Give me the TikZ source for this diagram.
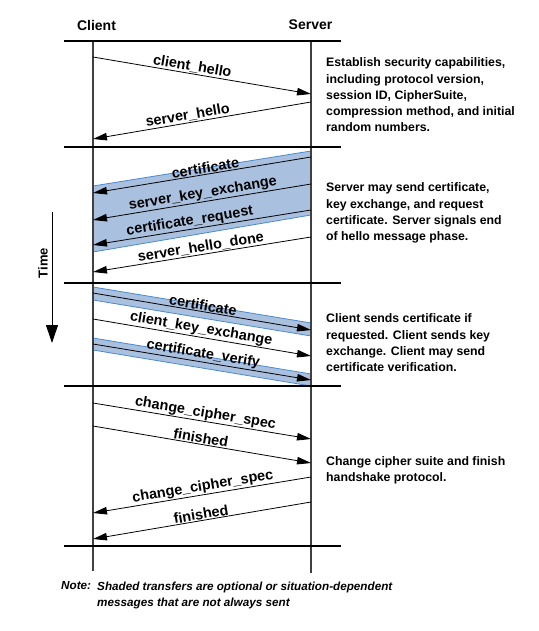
\documentclass[tikz,border=0pt]{standalone}
\usepackage{fontspec}
\setmainfont{Liberation Sans}
\usetikzlibrary{arrows.meta}
\definecolor{bandfill}{HTML}{A9C0DE}
\definecolor{bandedge}{HTML}{4A8AD0}

\begin{document}
\begin{tikzpicture}[x=1pt, y=-1pt,
    head/.style={font=\fontsize{14}{16}\selectfont\bfseries},
    info/.style={anchor=west, align=left, inner sep=0pt, font=\fontsize{12.3}{16.3}\selectfont\bfseries},
    notefont/.style={anchor=north west, align=left, inner sep=0pt, font=\fontsize{11.7}{16.8}\selectfont\bfseries\itshape},
    msg/.style={line width=0.8pt, -{Triangle[length=14pt,width=7.5pt]}},
    lbl/.style={sloped, above, inner sep=0.8pt, font=\fontsize{14.4}{16}\selectfont\bfseries},
    life/.style={line width=1.1pt, black!75},
    sepline/.style={line width=2.4pt},
    band/.style={fill=bandfill, draw=bandedge, line width=0.8pt}]
    \useasboundingbox (0,0) rectangle (538,631);

    % 見出し
    \node[head] (client) at (96.5,25) {Client};
    \node[head] (server) at (310.5,25) {Server};

    % 網掛け
    \filldraw[band] (93,186) -- (311,151) -- (311,215) -- (93,252) -- cycle;
    \filldraw[band] (93,287) -- (311,323) -- (311,336) -- (93,300) -- cycle;
    \filldraw[band] (93,338) -- (311,374) -- (311,386) -- (93,350) -- cycle;

    % 生存線
    \coordinate (ctop) at (93,41);
    \coordinate (cbot) at (93,571);
    \coordinate (stop) at (311,41);
    \coordinate (sbot) at (311,573);
    \draw[life] (ctop) -- (cbot);
    \draw[life] (stop) -- (sbot);

    % 区切り線
    \draw[sepline] (64,41) -- (341,41);
    \draw[sepline] (64,147) -- (341,147);
    \draw[sepline] (64,283) -- (341,283);
    \draw[sepline] (64,386) -- (341,386);
    \draw[sepline] (64,546) -- (341,546);

    % メッセージの端点
    \coordinate (c1) at (93,57);   \coordinate (s1) at (311,94);
    \coordinate (s2) at (311,102); \coordinate (c2) at (93,139);
    \coordinate (s3) at (311,157); \coordinate (c3) at (93,193);
    \coordinate (s4) at (311,184); \coordinate (c4) at (93,220);
    \coordinate (s5) at (311,210); \coordinate (c5) at (93,245);
    \coordinate (s6) at (311,237); \coordinate (c6) at (93,272);
    \coordinate (c7) at (93,293);  \coordinate (s7) at (311,330);
    \coordinate (c8) at (93,319);  \coordinate (s8) at (311,356);
    \coordinate (c9) at (93,344);  \coordinate (s9) at (311,380);
    \coordinate (c10) at (93,403); \coordinate (s10) at (311,439);
    \coordinate (c11) at (93,426); \coordinate (s11) at (311,463);
    \coordinate (s12) at (311,477); \coordinate (c12) at (93,513);
    \coordinate (s13) at (311,502); \coordinate (c13) at (93,539);

    % メッセージを描画
    \draw[msg] (c1) -- node[lbl, pos=0.45] {client\_hello} (s1);
    \draw[msg] (s2) -- node[lbl, pos=0.56] {server\_hello} (c2);
    \draw[msg] (s3) -- node[lbl, pos=0.48] {certificate} (c3);
    \draw[msg] (s4) -- node[lbl, pos=0.49] {server\_key\_exchange} (c4);
    \draw[msg] (s5) -- node[lbl, pos=0.55] {certificate\_request} (c5);
    \draw[msg] (s6) -- node[lbl, pos=0.5] {server\_hello\_done} (c6);
    \draw[msg] (c7) -- node[lbl, pos=0.5] {certificate} (s7);
    \draw[msg] (c8) -- node[lbl, pos=0.49] {client\_key\_exchange} (s8);
    \draw[msg] (c9) -- node[lbl, pos=0.5] {certificate\_verify} (s9);
    \draw[msg] (c10) -- node[lbl, pos=0.51] {change\_cipher\_spec} (s10);
    \draw[msg] (c11) -- node[lbl, pos=0.49] {finished} (s11);
    \draw[msg] (s12) -- node[lbl, pos=0.49] {change\_cipher\_spec} (c12);
    \draw[msg] (s13) -- node[lbl, pos=0.5] {finished} (c13);

    % 時間軸
    \node[font=\fontsize{13}{15}\selectfont\bfseries, rotate=90] (time) at (43,263) {Time};
    \coordinate (t1) at (52,212);
    \coordinate (t2) at (52,343);
    \draw[line width=1pt, -{Triangle[length=18pt,width=12pt]}] (t1) -- (t2);

    % 説明文
    \node[info] (desc1) at (326,95) {Establish security capabilities,\\including protocol version,\\session ID, CipherSuite,\\compression method, and initial\\random numbers.};
    \node[info] (desc2) at (326,213) {Server may send certificate,\\key exchange, and request\\certificate. Server signals end\\of hello message phase.};
    \node[info] (desc3) at (326,343) {Client sends certificate if\\requested. Client sends key\\exchange. Client may send\\certificate verification.};
    \node[info] (desc4) at (326,470) {Change cipher suite and finish\\handshake protocol.};

    % 注記
    \node[notefont] (note) at (61,581.5) {Note:};
    \node[notefont] (notetext) at (97,581.5) {Shaded transfers are optional or situation-dependent\\messages that are not always sent};
\end{tikzpicture}
\end{document}
